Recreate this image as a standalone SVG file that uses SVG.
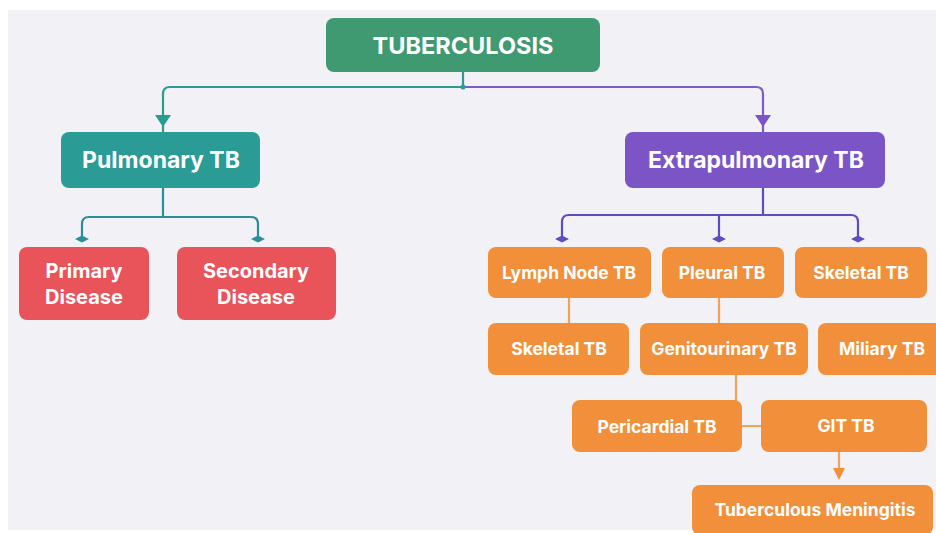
<svg xmlns="http://www.w3.org/2000/svg" width="936" height="533" viewBox="0 0 936 533">
<defs>
<style>
text{font-family:Inter,"Noto Sans","Liberation Sans",sans-serif;font-weight:700;fill:#fff;text-anchor:middle;dominant-baseline:central}
.t0{font-size:23.5px}
.t1{font-size:23px}
.t2{font-size:20px}
.t3{font-size:17.5px}
.ln{fill:none;stroke-width:2.2;stroke-linejoin:round}
.green{fill:#3f9a71}
.teal{fill:#2a9b95}
.purple{fill:#7b55c6}
.red{fill:#e8545a}
.orange{fill:#f28f3a}
</style>
<path id="dia" d="M-7,0 L0,-3.5 L7,0 L0,3.5 Z"/>
<path id="tri" d="M-8,-12 L8,-12 L0,0 Z"/>
</defs>
<rect width="936" height="533" fill="#ffffff"/>
<rect x="8" y="10" width="928" height="520" fill="#f2f1f5"/>

<g id="connectors">
  <path class="ln" stroke="#2f9b8e" d="M463,72 V87 H170 Q163,87 163,94 V132"/>
  <path class="ln" stroke="#7b5cc8" d="M463,87 H756 Q763,87 763,94 V132"/>
  <circle cx="463" cy="87" r="2.5" fill="#2f9b8e"/>
  <use href="#tri" x="163" y="127" fill="#2a9b8f"/>
  <use href="#tri" x="763" y="127" fill="#7b55c6"/>

  <path class="ln" stroke="#2a8f98" d="M163,188 V217 H89 Q82,217 82,224 V239 M163,217 H251 Q258,217 258,224 V239"/>
  <use href="#dia" x="82" y="239" fill="#2a8f98"/>
  <use href="#dia" x="258" y="239" fill="#2a8f98"/>

  <path class="ln" stroke="#5d4ec0" d="M763,188 V215 H569 Q562,215 562,222 V239 M763,215 H851 Q858,215 858,222 V239 M719,215 V239"/>
  <use href="#dia" x="562" y="239" fill="#5d4ec0"/>
  <use href="#dia" x="719" y="239" fill="#5d4ec0"/>
  <use href="#dia" x="858" y="239" fill="#5d4ec0"/>

  <path class="ln" stroke="#f0a25e" d="M569,298 V323 M719,298 V323 M736,375 V401 M742,426 H761 M839,452 V470"/>
  <path d="M833,468 L845,468 L839,480 Z" fill="#f28f3a"/>
</g>

<g id="tuberculosis"><rect class="green" x="326" y="18" width="274" height="54" rx="8"/><text class="t0" x="463" y="45">TUBERCULOSIS</text></g>
<g id="pulmonary"><rect class="teal" x="61" y="132" width="199" height="56" rx="8"/><text class="t1" x="161" y="160">Pulmonary TB</text></g>
<g id="extrapulmonary"><rect class="purple" x="625" y="132" width="260" height="56" rx="8"/><text class="t1" x="756" y="160">Extrapulmonary TB</text></g>
<g id="primary"><rect class="red" x="19" y="247" width="130" height="73" rx="8"/><text class="t2" x="84" y="271">Primary</text><text class="t2" x="84" y="297">Disease</text></g>
<g id="secondary"><rect class="red" x="177" y="247" width="159" height="73" rx="8"/><text class="t2" x="256" y="271">Secondary</text><text class="t2" x="256" y="297">Disease</text></g>
<g id="lymph"><rect class="orange" x="488" y="247" width="163" height="51" rx="8"/><text class="t3" x="569" y="272">Lymph Node TB</text></g>
<g id="pleural"><rect class="orange" x="662" y="247" width="122" height="51" rx="8"/><text class="t3" x="722" y="272">Pleural TB</text></g>
<g id="skeletal1"><rect class="orange" x="795" y="247" width="132" height="51" rx="8"/><text class="t3" x="861" y="272">Skeletal TB</text></g>
<g id="skeletal2"><rect class="orange" x="488" y="323" width="141" height="52" rx="8"/><text class="t3" x="559" y="348">Skeletal TB</text></g>
<g id="genitourinary"><rect class="orange" x="640" y="323" width="168" height="52" rx="8"/><text class="t3" x="724" y="348">Genitourinary TB</text></g>
<g id="miliary"><rect class="orange" x="818" y="323" width="130" height="52" rx="8"/><text class="t3" x="882" y="348">Miliary TB</text></g>
<g id="pericardial"><rect class="orange" x="572" y="400" width="170" height="52" rx="8"/><text class="t3" x="657" y="426">Pericardial TB</text></g>
<g id="git"><rect class="orange" x="761" y="400" width="166" height="52" rx="8"/><text class="t3" x="846" y="425">GIT TB</text></g>
<g id="meningitis"><rect class="orange" x="692" y="485" width="241" height="50" rx="8"/><text class="t3" x="815" y="509">Tuberculous Meningitis</text></g>
</svg>
